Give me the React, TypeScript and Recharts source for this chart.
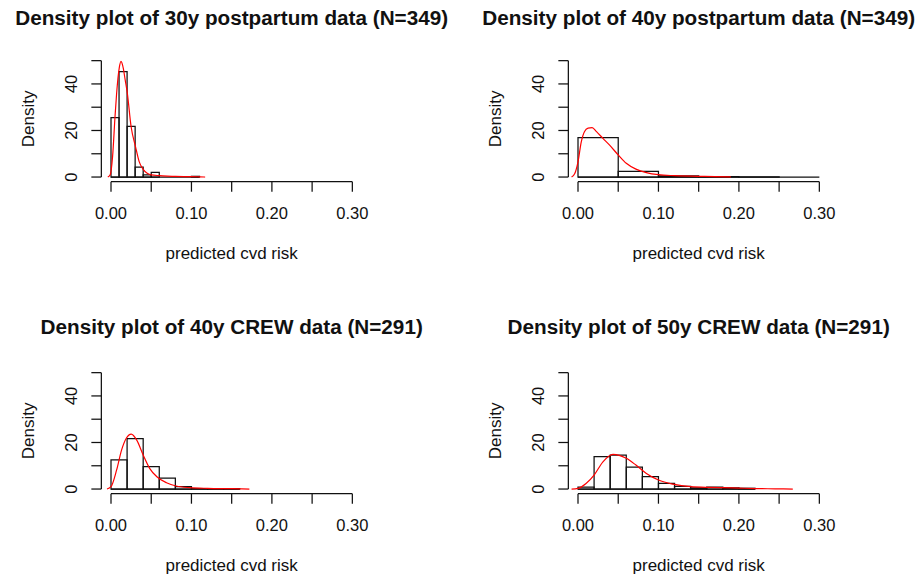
import { ComposedChart, Line, XAxis, YAxis, ReferenceArea, ReferenceLine } from "recharts";

// ── Data ─────────────────────────────────────────────────────────────────────

const xTicks = [0, 0.05, 0.1, 0.15, 0.2, 0.25, 0.3];
const yTicks = [0, 10, 20, 30, 40, 50];

// 30y postpartum (N=349), bins of 0.01 starting at 0
const pp30BinWidth = 0.01;
const pp30Bins = [25.5, 45.3, 21.8, 4.3, 0.9, 2.0, 0, 0, 0, 0, 0.3];
const pp30DensX = [-0.004, -0.001, 0.002, 0.005, 0.007, 0.0103, 0.0124, 0.0153, 0.0175, 0.0203, 0.025, 0.0305, 0.035, 0.04, 0.045, 0.05, 0.06, 0.07, 0.08, 0.09, 0.1, 0.11, 0.117];
const pp30DensY = [0, 1, 9, 26, 36, 47, 49.7, 46.7, 42, 36, 21.6, 13, 6.6, 3.3, 1.6, 0.9, 0.6, 0.4, 0.25, 0.2, 0.2, 0.1, 0];

// 40y postpartum (N=349), bins of 0.05
const pp40BinWidth = 0.05;
const pp40Bins = [16.9, 2.4, 0.46, 0.17, 0.06, 0];
const pp40DensX = [-0.008, -0.004, 0, 0.004, 0.008, 0.0125, 0.0175, 0.023, 0.031, 0.039, 0.05, 0.06, 0.072, 0.085, 0.1, 0.12, 0.15, 0.17, 0.19];
const pp40DensY = [0, 1.5, 6.5, 15, 19.5, 21, 21.2, 19.5, 16.6, 13.8, 9.5, 5.9, 3.4, 1.9, 1.0, 0.6, 0.3, 0.2, 0.05];

// 40y CREW (N=291), bins of 0.02
const crew40BinWidth = 0.02;
const crew40Bins = [12.54, 21.65, 9.62, 4.64, 1.03, 0.17, 0.17, 0.17];
const crew40DensX = [-0.005, 0, 0.007, 0.0132, 0.019, 0.0252, 0.032, 0.04, 0.048, 0.057, 0.069, 0.081, 0.098, 0.12, 0.15, 0.172];
const crew40DensY = [0, 1, 8.2, 16.8, 21.8, 23.6, 21, 14.6, 8.9, 5.3, 2.7, 1.3, 0.6, 0.3, 0.15, 0];

// 50y CREW (N=291), bins of 0.02
const crew50BinWidth = 0.02;
const crew50Bins = [0.86, 13.9, 14.6, 9.45, 5.33, 2.41, 1.2, 0.52, 0.86, 0.52, 0.34];
const crew50DensX = [-0.008, 0, 0.01, 0.02, 0.031, 0.0435, 0.06, 0.072, 0.085, 0.1, 0.118, 0.14, 0.163, 0.18, 0.2, 0.22, 0.245, 0.267];
const crew50DensY = [0, 0.3, 2.4, 6, 11.7, 14.9, 13.2, 10.3, 6.7, 3.9, 2.1, 1.0, 0.7, 0.6, 0.4, 0.2, 0.1, 0];

// ── Layout ───────────────────────────────────────────────────────────────────

const PANEL_W = 448;
const PANEL_H = 290;
const PLOT_L = 101.35;
const PLOT_T = 56;
const PLOT_R = 362;
const PLOT_B = 181.7;
const Y_AXIS_W = 60;
const X_AXIS_H = 60;
const PLOT_CX = (PLOT_L + PLOT_R) / 2;
const PLOT_CY = (PLOT_T + PLOT_B) / 2;
const FONT = "'Liberation Sans', Arial, Helvetica, sans-serif";
const INK = "#111";
const LW = 1.25;

type PanelProps = {
  left: number;
  top: number;
  title: string;
  titleY: number;
  binWidth: number;
  bins: number[];
  densX: number[];
  densY: number[];
};

const XTick = ({ x, payload }: any) => {
  const v = payload.value as number;
  if (Math.round(v * 100) % 10 !== 0) return <g />;
  return (
    <text x={x} y={PLOT_B + 37.6} textAnchor="middle" fontFamily={FONT} fontSize={16.5} fill={INK}>
      {v.toFixed(2)}
    </text>
  );
};

const YTick = ({ y, payload }: any) => {
  const v = payload.value as number;
  if (v % 20 !== 0) return <g />;
  return (
    <text transform={`translate(${PLOT_L - 24.5},${y}) rotate(-90)`} textAnchor="middle" fontFamily={FONT} fontSize={16.5} fill={INK}>
      {v}
    </text>
  );
};

function Panel({ left, top, title, titleY, binWidth, bins, densX, densY }: PanelProps) {
  const data = densX.map((x, i) => ({ x, d: densY[i] }));
  const end = bins.length * binWidth;
  return (
    <div style={{ position: "absolute", left, top, width: PANEL_W, height: PANEL_H }}>
      <ComposedChart
        width={PANEL_W}
        height={PANEL_H}
        data={data}
        margin={{ top: PLOT_T, right: PANEL_W - PLOT_R, bottom: PANEL_H - PLOT_B - X_AXIS_H, left: PLOT_L - Y_AXIS_W }}
      >
        <XAxis
          dataKey="x"
          type="number"
          domain={[-0.012, 0.312]}
          allowDataOverflow
          ticks={xTicks}
          interval={0}
          height={X_AXIS_H}
          tickSize={10}
          axisLine={false}
          stroke={INK}
          tickLine={{ stroke: INK, strokeWidth: LW }}
          tick={XTick}
        />
        <YAxis
          type="number"
          domain={[-2, 52]}
          allowDataOverflow
          ticks={yTicks}
          interval={0}
          width={Y_AXIS_W}
          tickSize={10}
          axisLine={false}
          stroke={INK}
          tickLine={{ stroke: INK, strokeWidth: LW }}
          tick={YTick}
        />
        <ReferenceLine segment={[{ x: 0, y: -2 }, { x: 0.3, y: -2 }]} stroke={INK} strokeWidth={LW} ifOverflow="visible" />
        <ReferenceLine segment={[{ x: -0.012, y: 0 }, { x: -0.012, y: 50 }]} stroke={INK} strokeWidth={LW} ifOverflow="visible" />
        <ReferenceLine segment={[{ x: 0, y: 0 }, { x: end, y: 0 }]} stroke={INK} strokeWidth={LW} />
        {bins.map((v, i) =>
          v > 0 ? (
            <ReferenceArea
              key={i}
              x1={i * binWidth}
              x2={(i + 1) * binWidth}
              y1={0}
              y2={v}
              fill="none"
              fillOpacity={0}
              stroke={INK}
              strokeWidth={LW}
              strokeOpacity={1}
            />
          ) : null
        )}
        <Line type="monotone" dataKey="d" stroke="#ff0000" strokeWidth={1.2} dot={false} activeDot={false} isAnimationActive={false} />
      </ComposedChart>
      <svg width={PANEL_W} height={PANEL_H} style={{ position: "absolute", left: 0, top: 0, pointerEvents: "none" }}>
        <text x={PLOT_CX} y={titleY} textAnchor="middle" fontFamily={FONT} fontSize={20.7} fontWeight="bold" fill={INK}>
          {title}
        </text>
        <text transform={`translate(34.3,${PLOT_CY}) rotate(-90)`} textAnchor="middle" fontFamily={FONT} fontSize={17} fill={INK}>
          Density
        </text>
        <text x={PLOT_CX} y={PLOT_B + 77.5} textAnchor="middle" fontFamily={FONT} fontSize={17} fill={INK}>
          predicted cvd risk
        </text>
      </svg>
    </div>
  );
}

export default function App() {
  return (
    <div style={{ position: "absolute", left: 0, top: 0, width: 916, height: 580, background: "#fff", overflow: "hidden" }}>
      <Panel left={0} top={0} title="Density plot of 30y postpartum data (N=349)" titleY={24.8}
        binWidth={pp30BinWidth} bins={pp30Bins} densX={pp30DensX} densY={pp30DensY} />
      <Panel left={467.3} top={0} title="Density plot of 40y postpartum data (N=349)" titleY={24.8}
        binWidth={pp40BinWidth} bins={pp40Bins} densX={pp40DensX} densY={pp40DensY} />
      <Panel left={0} top={312} title="Density plot of 40y CREW data (N=291)" titleY={21.8}
        binWidth={crew40BinWidth} bins={crew40Bins} densX={crew40DensX} densY={crew40DensY} />
      <Panel left={467.3} top={312} title="Density plot of 50y CREW data (N=291)" titleY={21.8}
        binWidth={crew50BinWidth} bins={crew50Bins} densX={crew50DensX} densY={crew50DensY} />
    </div>
  );
}
